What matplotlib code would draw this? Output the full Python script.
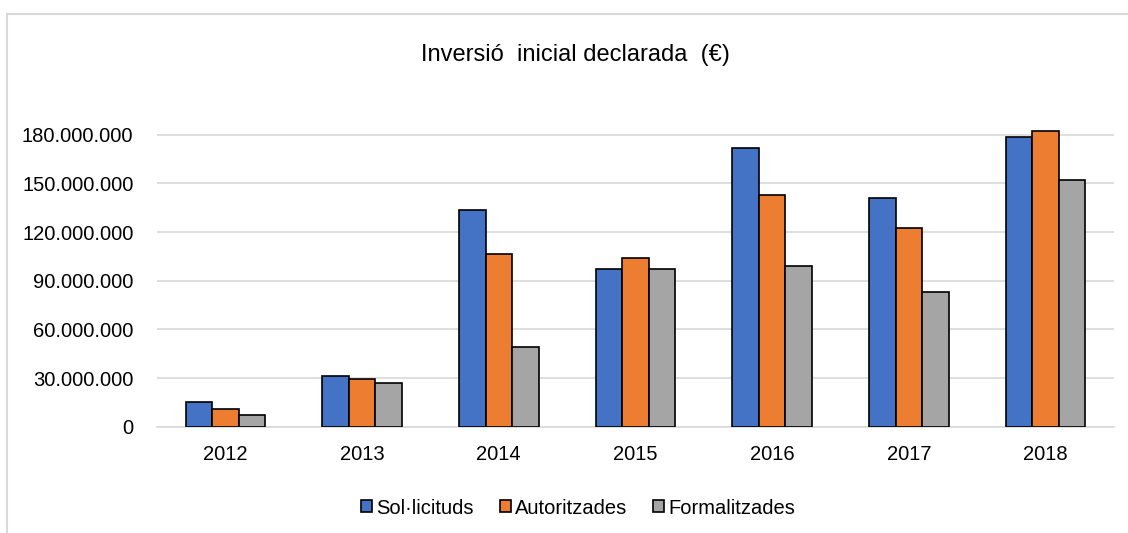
#!/usr/bin/env python3

import matplotlib.pyplot as plt
import matplotlib.ticker as mticker
from matplotlib import font_manager
import numpy as np

anys = ['2012', '2013', '2014', '2015', '2016', '2017', '2018']
sollicituds = [15.1e6, 31.1e6, 133.3e6, 97.4e6, 171.8e6, 141.3e6, 178.8e6]
autoritzades = [10.9e6, 29.6e6, 106.7e6, 104.0e6, 142.7e6, 122.8e6, 182.5e6]
formalitzades = [7.0e6, 26.8e6, 49.4e6, 97.4e6, 98.9e6, 82.8e6, 152.0e6]

# font estret tipus Arial Narrow si hi és
noms = {f.name for f in font_manager.fontManager.ttflist}
font = 'Liberation Sans Narrow' if 'Liberation Sans Narrow' in noms else 'Liberation Sans'
plt.rcParams['font.family'] = [font, 'DejaVu Sans']

fig = plt.figure(figsize=(11.28, 5.33), dpi=100)
ax = fig.add_axes([157 / 1128, 1 - 426.7 / 533, (1114 - 157) / 1128, (426.7 - 125) / 533])

x = np.arange(len(anys))
w = 0.194
colors = ['#4472C4', '#ED7D31', '#A5A5A5']
ax.bar(x - w, sollicituds, w, color=colors[0], edgecolor='black', linewidth=1.2, label='Sol·licituds', zorder=3)
ax.bar(x, autoritzades, w, color=colors[1], edgecolor='black', linewidth=1.2, label='Autoritzades', zorder=3)
ax.bar(x + w, formalitzades, w, color=colors[2], edgecolor='black', linewidth=1.2, label='Formalitzades', zorder=3)

ax.set_xlim(-0.5, len(anys) - 0.5)
ax.set_ylim(0, 186e6)
ax.set_yticks(np.arange(0, 180e6 + 1, 30e6))
ax.yaxis.set_major_formatter(mticker.FuncFormatter(lambda v, p: f"{int(v):,}".replace(",", ".")))
ax.set_xticks(x)
ax.set_xticklabels(anys)
ax.tick_params(axis='both', length=0, labelsize=14.5, colors='#000000')
ax.tick_params(axis='y', pad=17)
ax.tick_params(axis='x', pad=13)
ax.grid(axis='y', color='#d9d9d9', linewidth=1.2, zorder=0)
for s in ['top', 'right', 'left']:
    ax.spines[s].set_visible(False)
ax.spines['bottom'].set_color('#d9d9d9')
ax.spines['bottom'].set_linewidth(1.2)

fig.text(575 / 1128, 1 - 55 / 533, 'Inversió  inicial declarada  (€)', ha='center', va='center', fontsize=17)

ax.legend(loc='center', bbox_to_anchor=(578 / 1128, 1 - 508 / 533), bbox_transform=fig.transFigure,
          ncol=3, frameon=False, fontsize=14.5, handlelength=0.55, handleheight=0.55,
          handletextpad=0.2, columnspacing=1.3)

# marc del gràfic (retallat a dreta i a baix)
fig.add_artist(plt.Line2D([7 / 1128, 7 / 1128], [0, 1 - 14 / 533], color='#d9d9d9', linewidth=1.5))
fig.add_artist(plt.Line2D([7 / 1128, 1], [1 - 14 / 533, 1 - 14 / 533], color='#d9d9d9', linewidth=1.5))

fig.savefig('out.png', dpi=100)
